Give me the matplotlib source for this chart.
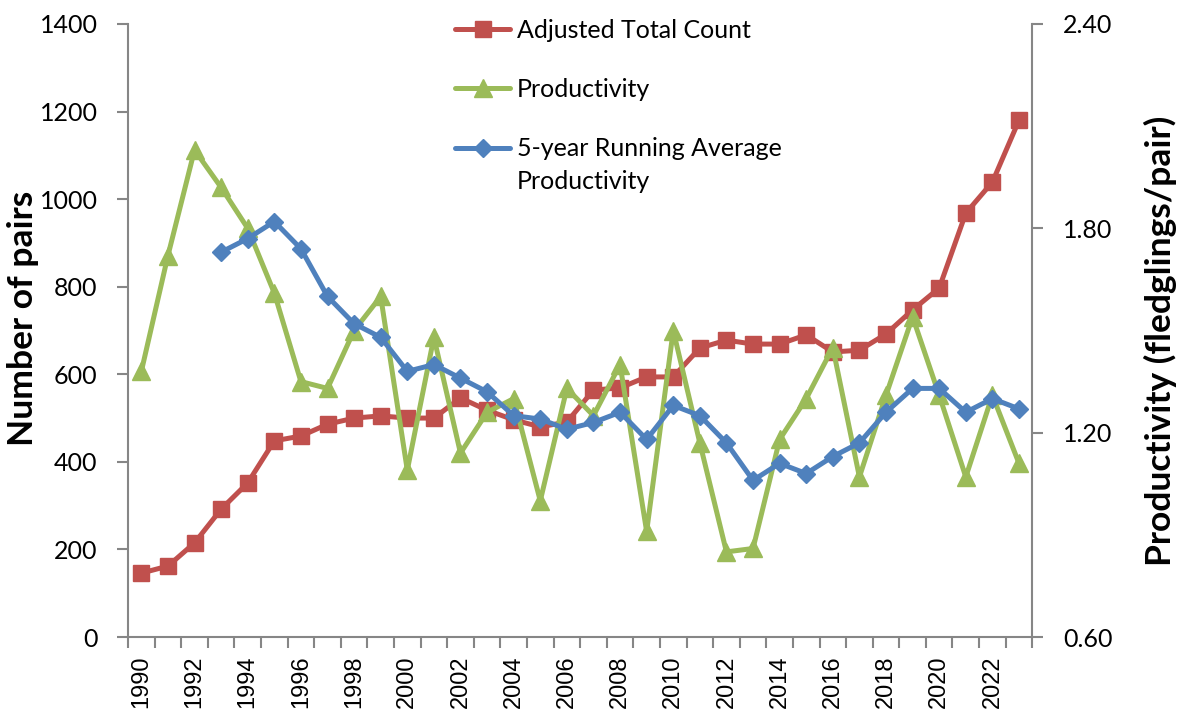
import matplotlib
matplotlib.use("Agg")
import matplotlib.pyplot as plt
import numpy as np

# data
years = list(range(1990, 2024))
total_count = [146, 162, 215, 292, 352, 448, 459, 486, 500, 505,
               500, 500, 546, 518, 496, 480, 491, 564, 569, 594,
               594, 660, 678, 669, 669, 690, 651, 655, 692, 747,
               797, 968, 1039, 1180]
productivity = [1.38, 1.72, 2.03, 1.92, 1.80, 1.61, 1.35, 1.33, 1.50, 1.60,
                1.09, 1.48, 1.14, 1.26, 1.30, 1.00, 1.33, 1.25, 1.40, 0.91,
                1.50, 1.17, 0.85, 0.86, 1.18, 1.30, 1.45, 1.07, 1.31, 1.54,
                1.31, 1.07, 1.31, 1.11]
running_avg = [None, None, None, 1.73, 1.77, 1.82, 1.74, 1.60, 1.52, 1.48,
               1.38, 1.40, 1.36, 1.32, 1.25, 1.24, 1.21, 1.23, 1.26, 1.18,
               1.28, 1.25, 1.17, 1.06, 1.11, 1.08, 1.13, 1.17, 1.26, 1.33,
               1.33, 1.26, 1.30, 1.27]

red = "#C0504D"
green = "#9BBB59"
blue = "#4F81BD"
grey = "#868686"
font = ["Lato", "DejaVu Sans"]

x = np.arange(len(years))
ravg = np.array([np.nan if v is None else v for v in running_avg])

fig = plt.figure(figsize=(11.78, 7.14), dpi=100)
ax = fig.add_axes([0.1087, 0.1078, 0.7676, 0.8586])
ax2 = ax.twinx()

l1, = ax.plot(x, total_count, color=red, lw=3.6, marker="s", ms=11.5,
              label="Adjusted Total Count", solid_capstyle="round")
l2, = ax2.plot(x, productivity, color=green, lw=3.6, marker="^", ms=13,
               label="Productivity", solid_capstyle="round")
l3, = ax2.plot(x, ravg, color=blue, lw=3.6, marker="D", ms=9,
               label="5-year Running Average", solid_capstyle="round")

ax.set_xlim(-0.5, len(years) - 0.5)
ax.set_ylim(0, 1400)
ax2.set_ylim(0.6, 2.4)
ax.set_yticks(np.arange(0, 1401, 200))
ax2.set_yticks([0.6, 1.2, 1.8, 2.4])
ax2.set_yticklabels(["0.60", "1.20", "1.80", "2.40"])

# category axis: ticks between categories, labels every second year
ax.set_xticks(np.arange(-0.5, len(years), 1))
ax.set_xticklabels([])
ax.set_xticks(x[::2], minor=True)
ax.set_xticklabels([str(y) for y in years[::2]], minor=True, rotation=90,
                   fontsize=17, family=["Liberation Sans", "DejaVu Sans"])
ax.tick_params(axis="x", which="major", length=8, color=grey, width=1.5, direction="out")
ax.tick_params(axis="x", which="minor", length=0, pad=13)

ax.tick_params(axis="y", length=8, color=grey, width=1.5, labelsize=18, pad=14)
ax2.tick_params(axis="y", length=8, color=grey, width=1.5, labelsize=18, pad=14)
for lab in ax.get_yticklabels() + ax2.get_yticklabels():
    lab.set_family(font)

for a in (ax, ax2):
    for s in a.spines.values():
        s.set_visible(False)
ax.spines["left"].set_visible(True)
ax.spines["bottom"].set_visible(True)
ax2.spines["right"].set_visible(True)
for s in (ax.spines["left"], ax.spines["bottom"], ax2.spines["right"]):
    s.set_color(grey)
    s.set_linewidth(1.5)

ax.set_ylabel("Number of pairs", fontsize=25.5, fontweight="bold", family=font, va="center")
ax.yaxis.set_label_coords(-0.116, 0.52)
ax2.set_ylabel("Productivity (fledglings/pair)", fontsize=25.5, fontweight="bold",
               family=font, va="center")
ax2.yaxis.set_label_coords(1.1416, 0.483)

leg = ax2.legend(handles=[l1, l2, l3], loc="upper left", bbox_to_anchor=(0.337, 1.045),
                 frameon=False, prop={"family": font, "size": 18},
                 handlelength=2.2, handletextpad=0.25, labelspacing=1.45)

# second line of the running-average label sits under the first one
fig.canvas.draw()
bb = leg.get_texts()[2].get_window_extent()
fig.text(bb.x0, bb.y0 - 33, "Productivity", fontsize=18, family=font,
         ha="left", va="bottom", transform=None)

fig.savefig("out.png", dpi=100)
